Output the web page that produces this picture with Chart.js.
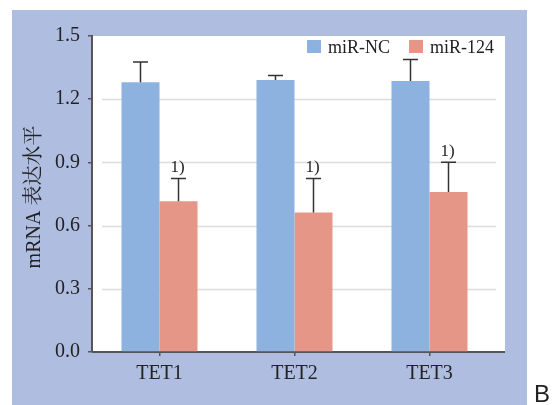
<!DOCTYPE html>
<html>
<head>
<meta charset="utf-8">
<script src="https://cdn.jsdelivr.net/npm/chart.js@4.4.0/dist/chart.umd.min.js"></script>
<style>
    html, body { margin: 0; padding: 0; background: #fff; }
    #chart { display: block; }
</style>
</head>
<body>
<canvas id="chart" width="552" height="405"></canvas>
<script>
const categories = ['TET1', 'TET2', 'TET3'];
const seriesNames = ['miR-NC', 'miR-124'];
const ncValues = [1.281, 1.291, 1.286];
const ncErrors = [0.095, 0.021, 0.103];
const mirValues = [0.716, 0.662, 0.759];
const mirErrors = [0.108, 0.162, 0.142];
const mirMarks = ['1)', '1)', '1)'];
const yTickValues = [0, 0.3, 0.6, 0.9, 1.2, 1.5];
const yTitle = 'mRNA 表达水平';
const panelLabel = 'B';

const serif = "'Liberation Serif', 'Times New Roman', 'Noto Serif CJK SC', 'Noto Sans CJK SC', serif";
const textColor = '#222';
const axisColor = '#555';

const decorPlugin = {
    id: 'decor',
    beforeDraw(chart) {
        const { ctx, chartArea } = chart;
        ctx.save();
        ctx.fillStyle = '#afbee0';
        ctx.fillRect(12, 10, 515, 395);
        ctx.fillStyle = '#ffffff';
        ctx.fillRect(chartArea.left, chartArea.top, chartArea.right - chartArea.left + 8, chartArea.bottom - chartArea.top);
        ctx.restore();
    },
    beforeDatasetsDraw(chart) {
        const { ctx, chartArea } = chart;
        const yScale = chart.scales.y;
        ctx.save();
        // grid lines, inset from the axis
        ctx.strokeStyle = '#dcdcdc';
        ctx.lineWidth = 1.5;
        yTickValues.forEach(v => {
            if (v === 0 || v === yTickValues[yTickValues.length - 1]) return;
            const y = Math.round(yScale.getPixelForValue(v)) + 0.5;
            ctx.beginPath();
            ctx.moveTo(chartArea.left + 10, y);
            ctx.lineTo(chartArea.right - 1, y);
            ctx.stroke();
        });
        // x axis line runs to the edge of the white panel
        ctx.strokeStyle = axisColor;
        ctx.lineWidth = 2;
        ctx.beginPath();
        ctx.moveTo(chartArea.left, chartArea.bottom);
        ctx.lineTo(chartArea.right + 8, chartArea.bottom);
        ctx.stroke();
        ctx.restore();
    },
    afterDatasetsDraw(chart) {
        const { ctx } = chart;
        const yScale = chart.scales.y;
        const errors = [ncErrors, mirErrors];
        ctx.save();
        ctx.strokeStyle = '#333';
        ctx.lineWidth = 1.5;
        chart.data.datasets.forEach((ds, i) => {
            const meta = chart.getDatasetMeta(i);
            meta.data.forEach((bar, j) => {
                const top = yScale.getPixelForValue(ds.data[j] + errors[i][j]);
                ctx.beginPath();
                ctx.moveTo(bar.x, bar.y);
                ctx.lineTo(bar.x, top);
                ctx.moveTo(bar.x - 7.5, top);
                ctx.lineTo(bar.x + 7.5, top);
                ctx.stroke();
                if (i === 1 && mirMarks[j]) {
                    ctx.fillStyle = textColor;
                    ctx.font = '17px ' + serif;
                    ctx.textAlign = 'center';
                    ctx.textBaseline = 'alphabetic';
                    ctx.fillText(mirMarks[j], bar.x - 1, top - 6);
                }
            });
        });
        ctx.restore();
    },
    afterDraw(chart) {
        const { ctx, chartArea } = chart;
        ctx.save();
        // legend
        ctx.font = '18px ' + serif;
        ctx.textBaseline = 'alphabetic';
        ctx.textAlign = 'left';
        let x = 307;
        chart.data.datasets.forEach(ds => {
            ctx.fillStyle = ds.backgroundColor;
            ctx.fillRect(x, 40, 14, 13);
            ctx.fillStyle = textColor;
            ctx.fillText(ds.label, x + 21, 53);
            x += 21 + ctx.measureText(ds.label).width + 19;
        });
        // y axis title
        ctx.translate(35, (chartArea.top + chartArea.bottom) / 2 + 3);
        ctx.rotate(-Math.PI / 2);
        ctx.font = '20px ' + serif;
        ctx.textAlign = 'center';
        ctx.textBaseline = 'middle';
        ctx.fillText(yTitle, 0, 0);
        ctx.restore();
        ctx.save();
        ctx.fillStyle = textColor;
        ctx.font = "24px 'Liberation Sans', Arial, sans-serif";
        ctx.textAlign = 'left';
        ctx.textBaseline = 'alphabetic';
        ctx.fillText(panelLabel, 534, 402);
        ctx.restore();
    }
};

new Chart(document.getElementById('chart'), {
    type: 'bar',
    data: {
        labels: categories,
        datasets: [
            {
                label: seriesNames[0],
                data: ncValues,
                backgroundColor: '#8db2e0',
                borderWidth: 0,
                categoryPercentage: 0.563,
                barPercentage: 1
            },
            {
                label: seriesNames[1],
                data: mirValues,
                backgroundColor: '#e59686',
                borderWidth: 0,
                categoryPercentage: 0.563,
                barPercentage: 1
            }
        ]
    },
    options: {
        responsive: false,
        devicePixelRatio: 1,
        animation: false,
        layout: { padding: { left: 0, right: 55, top: 36, bottom: 0 } },
        plugins: {
            legend: { display: false },
            tooltip: { enabled: false }
        },
        scales: {
            x: {
                afterFit: (scale) => { scale.height = 53; },
                border: { display: false },
                grid: {
                    drawOnChartArea: false,
                    offset: false,
                    tickLength: 4,
                    tickColor: axisColor,
                    lineWidth: 1.5
                },
                ticks: {
                    color: textColor,
                    padding: 6,
                    font: { family: serif, size: 20 }
                }
            },
            y: {
                min: 0,
                max: 1.5,
                afterFit: (scale) => { scale.width = 92; },
                afterBuildTicks: (scale) => {
                    scale.ticks = yTickValues.map(v => ({ value: v }));
                },
                border: { display: true, color: axisColor, width: 2 },
                grid: {
                    drawOnChartArea: false,
                    tickLength: 4,
                    tickColor: axisColor,
                    lineWidth: 1.5
                },
                ticks: {
                    color: textColor,
                    padding: 8,
                    font: { family: serif, size: 20 },
                    callback: (v) => Number(v).toFixed(1)
                }
            }
        }
    },
    plugins: [decorPlugin]
});
</script>
</body>
</html>
